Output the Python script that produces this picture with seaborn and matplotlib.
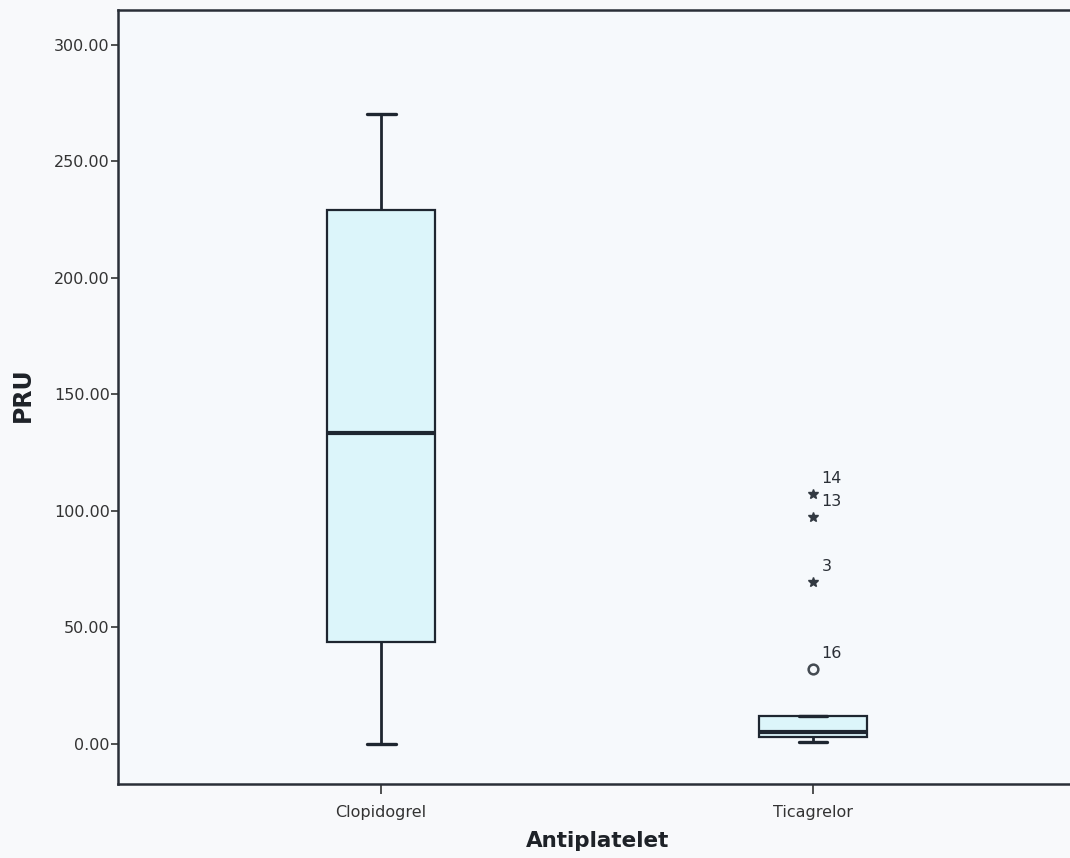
import numpy as np
import pandas as pd
import seaborn as sns
import matplotlib.pyplot as plt

# values (PRU by antiplatelet)
clopidogrel_pru = [0.0, 43.8, 133.5, 229.2, 270.4]
ticagrelor_pru = [1.0, 1.6, 2.0, 2.4, 2.8, 3.4, 3.9, 4.5, 5.0, 6.5, 8.2, 10.0, 11.8,
                  32.2, 69.5, 97.4, 107.3]
# SPSS case numbers of the flagged ticagrelor points, in ascending value order
ticagrelor_case_ids = ["16", "3", "13", "14"]

groups = ["Clopidogrel", "Ticagrelor"]
y_ticks = [0, 50, 100, 150, 200, 250, 300]

df = pd.DataFrame({
    "Antiplatelet": ["Clopidogrel"] * len(clopidogrel_pru) + ["Ticagrelor"] * len(ticagrelor_pru),
    "PRU": clopidogrel_pru + ticagrelor_pru,
})

sns.set_theme(style="white")
plt.rcParams["font.family"] = ["DejaVu Sans"]

fig = plt.figure(figsize=(10.7, 8.58), dpi=100, facecolor="#f8f9fb")
ax = fig.add_axes([118 / 1070, 1 - 784 / 858, 1 - 118 / 1070, (784 - 10) / 858])
ax.set_facecolor("#f6f9fc")

dark = "#1e2630"
sns.boxplot(
    data=df, x="Antiplatelet", y="PRU", order=groups, ax=ax,
    width=0.25, color="#dcf5fa", saturation=1, showfliers=False, whis=1.5,
    capwidths=0.067,
    boxprops=dict(edgecolor=dark, linewidth=1.6),
    whiskerprops=dict(color=dark, linewidth=2.0),
    capprops=dict(color=dark, linewidth=2.4),
    medianprops=dict(color=dark, linewidth=3.0),
)

# SPSS-style outliers: circle beyond 1.5 IQR, star beyond 3 IQR
for i, name in enumerate(groups):
    vals = np.asarray(df.loc[df["Antiplatelet"] == name, "PRU"])
    q1, q3 = np.percentile(vals, [25, 75])
    iqr = q3 - q1
    out = np.sort(vals[(vals > q3 + 1.5 * iqr) | (vals < q1 - 1.5 * iqr)])
    for j, v in enumerate(out):
        extreme = v > q3 + 3 * iqr or v < q1 - 3 * iqr
        if extreme:
            ax.plot(i, v, marker="*", ms=7, color="#333a42", mec="#333a42")
        else:
            ax.plot(i, v, marker="o", ms=7, mfc="none", mec="#444b52", mew=1.8)
        if name == "Ticagrelor":
            ax.annotate(ticagrelor_case_ids[j], (i, v), xytext=(6, 11),
                        textcoords="offset points", ha="left", va="center",
                        fontsize=11.5, color="#2a2f36")

ax.set_xlim(-0.609, 1.595)
ax.set_ylim(-17.2, 315)
ax.set_yticks(y_ticks)
ax.set_yticklabels([f"{t:.2f}" for t in y_ticks])
ax.set_xlabel("")
ax.set_ylabel("")
ax.tick_params(axis="y", direction="out", length=5, width=1.2, pad=1,
               labelsize=11.5, colors="#333", left=True)
ax.tick_params(axis="x", direction="out", length=7, width=1.2, pad=8,
               labelsize=11.5, colors="#333", bottom=True)

for side in ["left", "top", "bottom"]:
    ax.spines[side].set_color("#2a2f38")
    ax.spines[side].set_linewidth(1.8)
ax.spines["right"].set_visible(False)

fig.text(23 / 1070, 1 - 395 / 858, "PRU", rotation=90, ha="center", va="center",
         fontsize=17, fontweight="bold", color="#1e2228")
fig.text(598 / 1070, 1 - 841 / 858, "Antiplatelet", ha="center", va="center",
         fontsize=15.5, fontweight="bold", color="#1e2228")

fig.savefig("out.png", dpi=100, facecolor=fig.get_facecolor())
